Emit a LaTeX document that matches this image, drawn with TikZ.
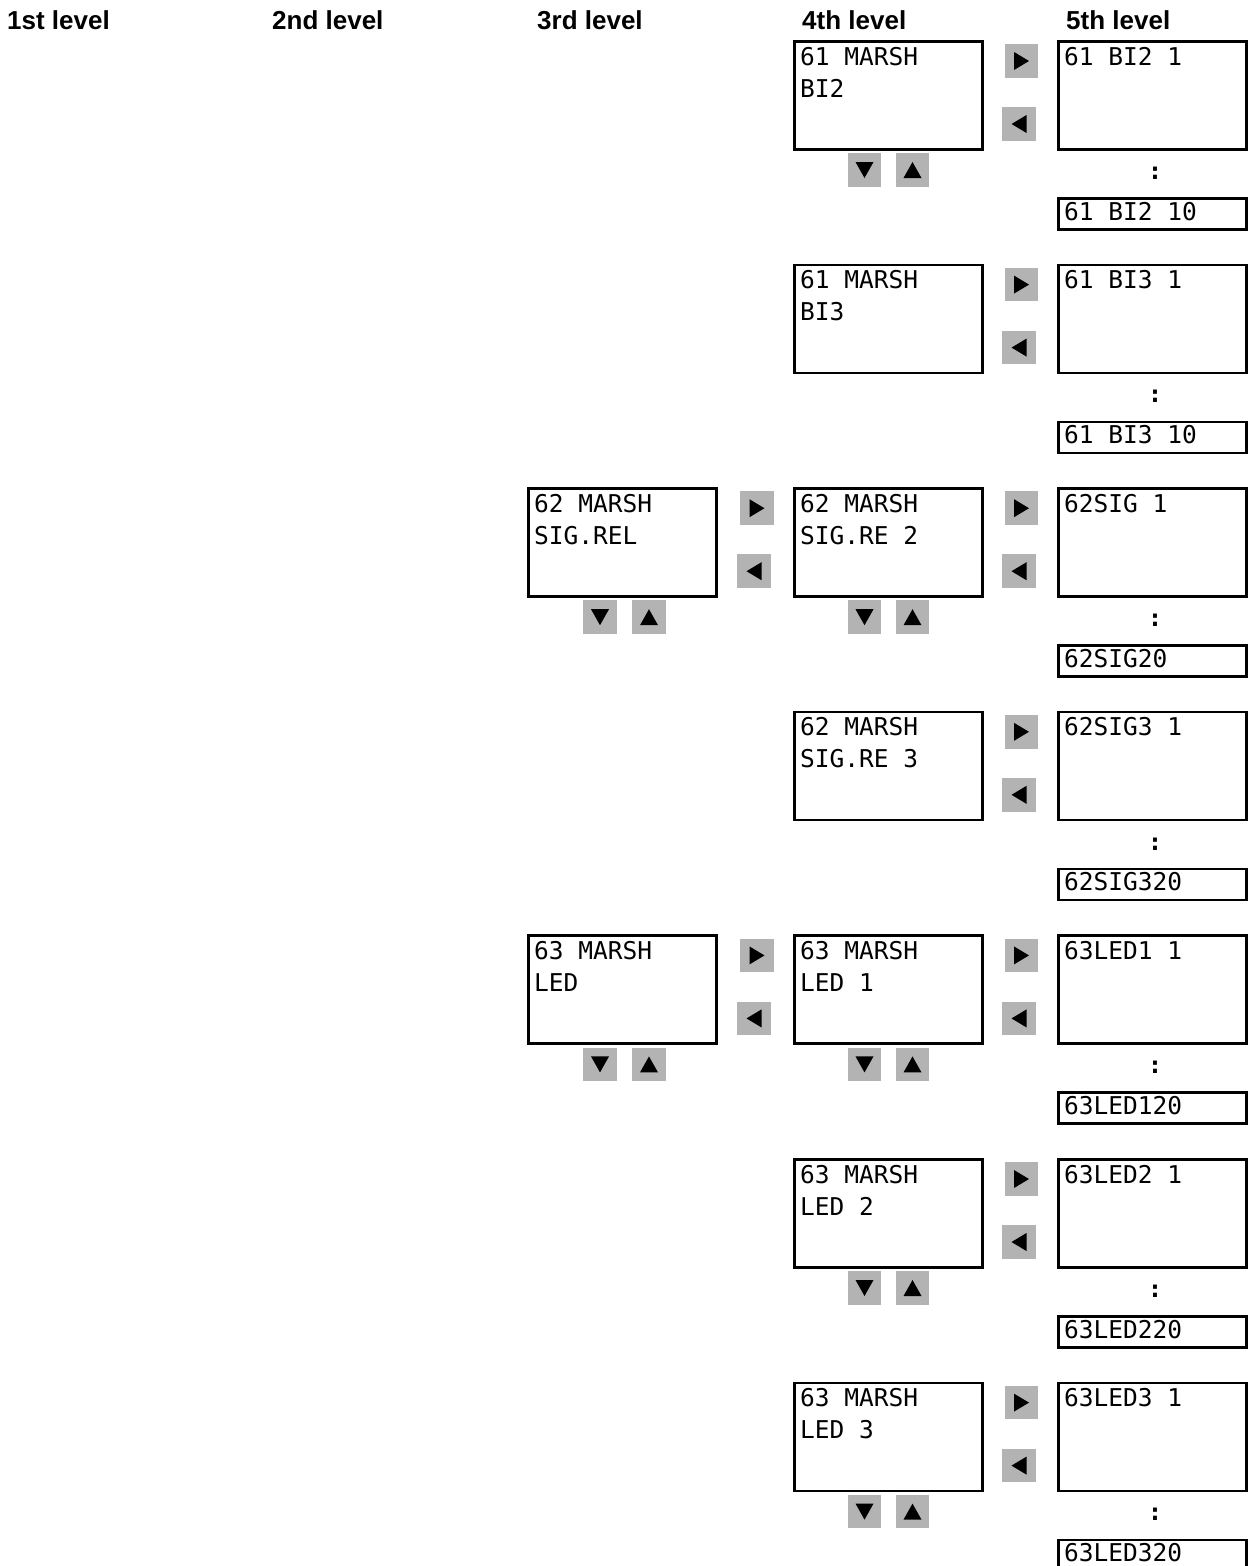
\documentclass[tikz,border=0pt]{standalone}
\usepackage{fontspec}
\setmainfont{Liberation Sans}
\newfontfamily\lcdfont{DejaVu Sans Mono}
\definecolor{btngray}{HTML}{B3B3B3}
\tikzset{
  hdr/.style={font=\fontsize{26}{30}\selectfont\bfseries, anchor=base west, inner sep=0pt},
  lcd/.style={font=\lcdfont\fontsize{24.5}{32}\selectfont, anchor=base west, inner sep=0pt},
  colon/.style={font=\lcdfont\bfseries\fontsize{24}{28}\selectfont, anchor=center, inner sep=0pt},
  bigbox/.style={draw, line width=2.6pt, rectangle, inner sep=0pt, anchor=north west,
                 minimum width=188pt, minimum height=108pt},
  smallbox/.style={draw, line width=2.6pt, rectangle, inner sep=0pt, anchor=north west,
                 minimum width=188pt, minimum height=31pt},
  btn/.style={fill=btngray, draw=none, rectangle, inner sep=0pt,
              minimum width=33.5pt, minimum height=33.5pt, anchor=center},
  rbtn/.style={btn, path picture={\fill[black] ([xshift=7.5pt]path picture bounding box.center)
               -- ++(-15pt,9pt) -- ++(0pt,-18pt) -- cycle;}},
  lbtn/.style={btn, path picture={\fill[black] ([xshift=-7.5pt]path picture bounding box.center)
               -- ++(15pt,9pt) -- ++(0pt,-18pt) -- cycle;}},
  dbtn/.style={btn, path picture={\fill[black] ([yshift=-8pt]path picture bounding box.center)
               -- ++(-9pt,16pt) -- ++(18pt,0pt) -- cycle;}},
  ubtn/.style={btn, path picture={\fill[black] ([yshift=8pt]path picture bounding box.center)
               -- ++(-9pt,-16pt) -- ++(18pt,0pt) -- cycle;}},
}
% level-4 box with right/left buttons: #1 name, #2 top, #3 line 1, #4 line 2
\newcommand\levelfour[4]{%
  \node[bigbox] (#1) at (793,#2) {};
  \node[lcd] (#1la) at (800,{#2+25}) {#3};
  \node[lcd] (#1lb) at (800,{#2+57}) {#4};
  \node[rbtn] (#1r) at (1021.5,{#2+21}) {};
  \node[lbtn] (#1l) at (1019,{#2+84}) {};
}
% down/up buttons under a level-4 box
\newcommand\fourupdown[2]{%
  \node[dbtn] (#1d) at (864.5,{#2+130}) {};
  \node[ubtn] (#1u) at (912.5,{#2+130}) {};
}
% level-5 column: #1 name, #2 top, #3 first entry, #4 last entry
\newcommand\levelfive[4]{%
  \node[bigbox] (#1) at (1057,#2) {};
  \node[lcd] (#1t) at (1064,{#2+25}) {#3};
  \node[colon] (#1c) at (1155,{#2+133}) {:};
  \node[smallbox] (#1s) at (1057,{#2+157}) {};
  \node[lcd] (#1st) at (1064,{#2+180}) {#4};
}
% level-3 box with all buttons
\newcommand\levelthree[4]{%
  \node[bigbox] (#1) at (527,#2) {};
  \node[lcd] (#1la) at (534,{#2+25}) {#3};
  \node[lcd] (#1lb) at (534,{#2+57}) {#4};
  \node[rbtn] (#1r) at (757,{#2+21}) {};
  \node[lbtn] (#1l) at (754,{#2+84}) {};
  \node[dbtn] (#1d) at (600,{#2+130}) {};
  \node[ubtn] (#1u) at (649,{#2+130}) {};
}
\begin{document}
\begin{tikzpicture}[x=1pt,y=-1pt]
\useasboundingbox[fill=white] (0,0) rectangle (1253,1566);

\node[hdr] (h1) at (7,29) {1st level};
\node[hdr] (h2) at (272,29) {2nd level};
\node[hdr] (h3) at (537,29) {3rd level};
\node[hdr] (h4) at (802,29) {4th level};
\node[hdr] (h5) at (1066,29) {5th level};

% row 1
\levelfour{bia}{40}{61 MARSH}{BI2}
\fourupdown{bia}{40}
\levelfive{fbia}{40}{61 BI2 1}{61 BI2 10}
% row 2
\levelfour{bib}{263.6}{61 MARSH}{BI3}
\levelfive{fbib}{263.6}{61 BI3 1}{61 BI3 10}
% row 3
\levelthree{sig}{487.2}{62 MARSH}{SIG.REL}
\levelfour{siga}{487.2}{62 MARSH}{SIG.RE 2}
\fourupdown{siga}{487.2}
\levelfive{fsiga}{487.2}{62SIG 1}{62SIG20}
% row 4
\levelfour{sigb}{710.8}{62 MARSH}{SIG.RE 3}
\levelfive{fsigb}{710.8}{62SIG3 1}{62SIG320}
% row 5
\levelthree{led}{934.4}{63 MARSH}{LED}
\levelfour{leda}{934.4}{63 MARSH}{LED 1}
\fourupdown{leda}{934.4}
\levelfive{fleda}{934.4}{63LED1 1}{63LED120}
% row 6
\levelfour{ledb}{1158}{63 MARSH}{LED 2}
\fourupdown{ledb}{1158}
\levelfive{fledb}{1158}{63LED2 1}{63LED220}
% row 7
\levelfour{ledc}{1381.6}{63 MARSH}{LED 3}
\fourupdown{ledc}{1381.6}
\levelfive{fledc}{1381.6}{63LED3 1}{63LED320}
\end{tikzpicture}
\end{document}
